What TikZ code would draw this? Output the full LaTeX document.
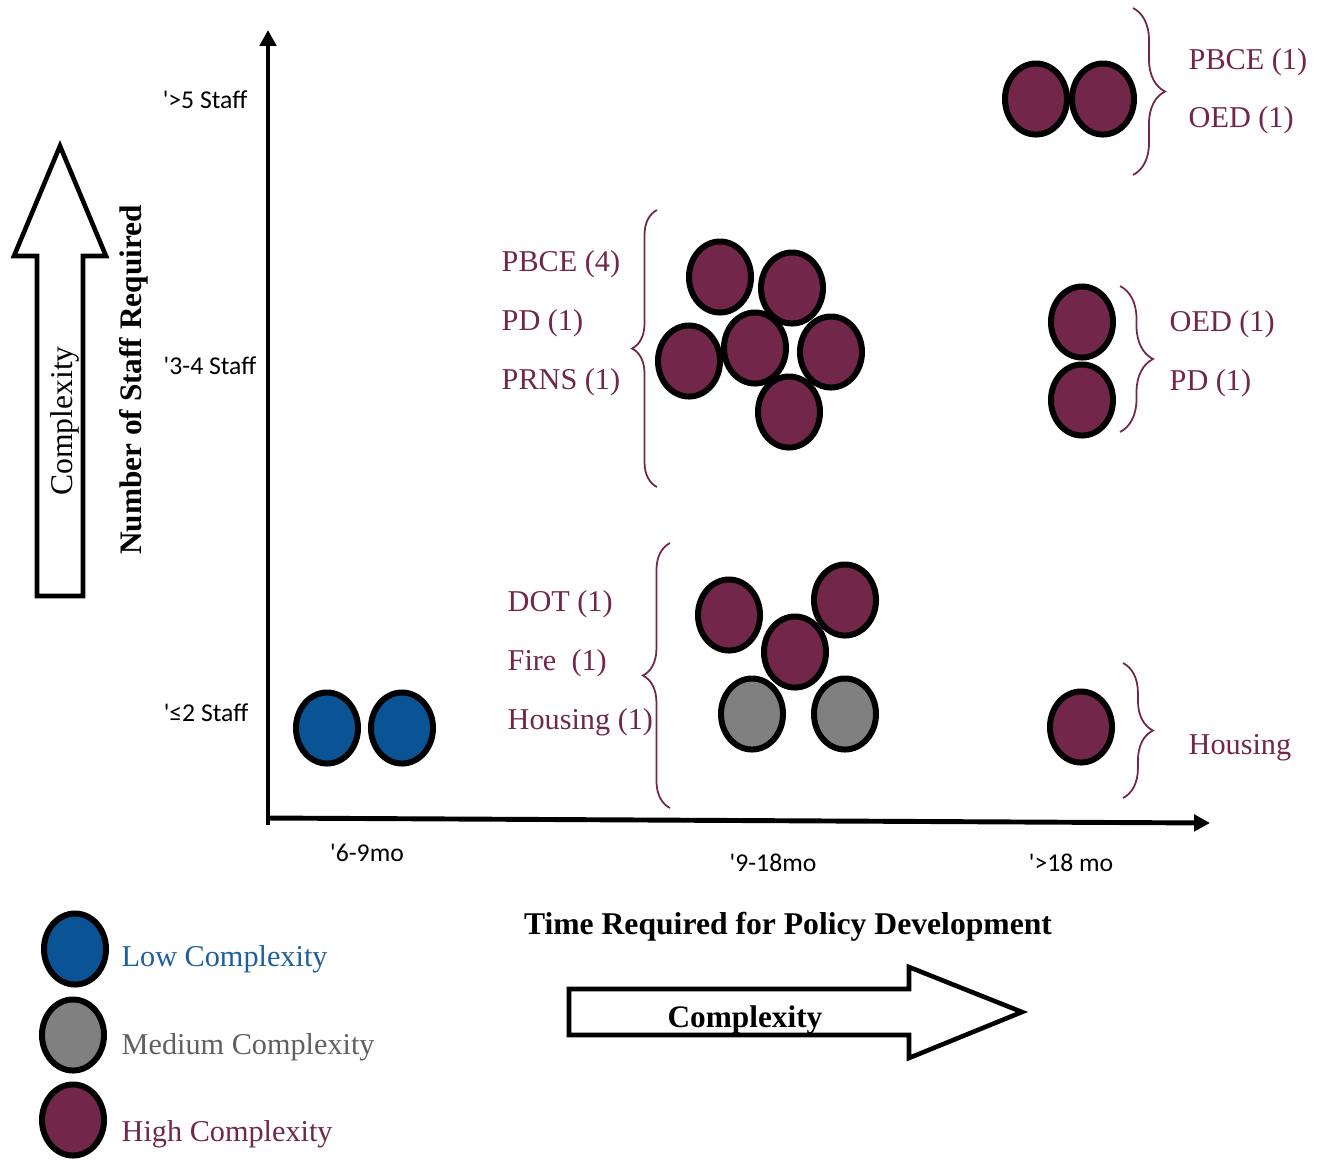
\documentclass[tikz,border=0pt]{standalone}
\usepackage{fontspec}
\setmainfont{Liberation Serif}
\newfontfamily\tickfont{Carlito}
\usetikzlibrary{arrows.meta,shapes.geometric,decorations.pathreplacing}
\definecolor{high}{RGB}{114,38,73}
\definecolor{low}{RGB}{10,83,149}
\definecolor{medium}{RGB}{128,128,128}
\definecolor{lowtext}{RGB}{30,94,158}
\definecolor{medtext}{RGB}{96,96,96}
\def\axw{1.4pt}
\def\tip{-{Triangle[length=4.5pt,width=4.6pt]}}
\tikzset{
  blob/.style={ellipse, draw=black, line width=1.7pt, minimum width=0.62cm, minimum height=0.71cm, inner sep=0pt},
  lowc/.style={blob, fill=low},
  medc/.style={blob, fill=medium},
  highc/.style={blob, fill=high},
  lab/.style={text=high, font=\fontsize{8.6}{10}\selectfont, anchor=west, inner sep=0pt},
  ticklab/.style={font=\tickfont\fontsize{7.3}{9}\selectfont, inner sep=0pt},
  bigarrow/.style={draw=black, line width=1.3pt, fill=white},
  curly/.style={draw=high, line width=0.5pt, decorate, decoration={brace, amplitude=#1}},
}

\begin{document}
\begin{tikzpicture}[x=0.01cm,y=-0.01cm]
\useasboundingbox (0,0) rectangle (1323,1159);

% axes
\coordinate (O) at (268,825);
\coordinate (Ytop) at (268,30);
\coordinate (X0) at (267,818);
\coordinate (Xend) at (1210,823);
\draw[line width=\axw, \tip] (O) -- (Ytop);
\draw[line width=\axw, \tip] (X0) -- (Xend);

\node[ticklab] (s5) at (205,100) {\textquotesingle>5 Staff};
\node[ticklab] (s34) at (210,366) {\textquotesingle3-4 Staff};
\node[ticklab] (s2) at (206,713) {\textquotesingle≤2 Staff};
\node[ticklab] (m69) at (367,853) {\textquotesingle6-9mo};
\node[ticklab] (m918) at (773,863) {\textquotesingle9-18mo};
\node[ticklab] (m18) at (1071,863) {\textquotesingle>18 mo};

\node[rotate=90, font=\bfseries\fontsize{8.9}{10}\selectfont] (ytitle) at (134,380) {Number of Staff Required};
\node[font=\bfseries\fontsize{9}{11}\selectfont] (xtitle) at (788,927) {Time Required for Policy Development};

% complexity arrows
\draw[bigarrow] (37,596) -- (37,256) -- (14,256) -- (60,146) -- (106,256) -- (83,256) -- (83,596) -- cycle;
\node[rotate=90, font=\fontsize{9}{10}\selectfont] (vcomp) at (65,421) {Complexity};
\draw[bigarrow] (569,989) -- (909,989) -- (909,967) -- (1022,1012) -- (909,1058) -- (909,1035) -- (569,1035) -- cycle;
\node[font=\bfseries\fontsize{8.9}{10}\selectfont] (hcomp) at (745,1020) {Complexity};

% policies
\foreach \x/\y [count=\i] in {1036/99, 1103/99, 720/277, 792/288, 689/361, 831/352, 755/348, 789/412,
  1082/322, 1082/400, 729/615, 845/600, 795/652, 1081/727}
  \node[highc] (h\i) at (\x,\y) {};
\node[medc] (m1) at (752,714) {};
\node[medc] (m2) at (845,714) {};
\node[lowc] (l1) at (327,728) {};
\node[lowc] (l2) at (402,728) {};

% braces
\draw[curly=9.1pt] (1133,8) -- (1133,175);
\draw[curly=9.4pt] (1120,286) -- (1120,432);
\draw[curly=8.5pt] (1123,663) -- (1123,798);
\draw[curly=7.1pt] (657,487) -- (657,210);
\draw[curly=7.7pt] (670,808) -- (670,543);

\node[lab] (t1) at (1188,62) {PBCE (1)};
\node[lab] (t2) at (1188,120) {OED (1)};
\node[lab] (t3) at (1169,324) {OED (1)};
\node[lab] (t4) at (1169,383) {PD (1)};
\node[lab] (t5) at (1188,748) {Housing};
\node[lab] (t6) at (501,264) {PBCE (4)};
\node[lab] (t7) at (501,323) {PD (1)};
\node[lab] (t8) at (501,382) {PRNS (1)};
\node[lab] (t9) at (507,604) {DOT (1)};
\node[lab] (t10) at (507,663) {Fire\ \ (1)};
\node[lab] (t11) at (507,722) {Housing (1)};

% legend
\node[lowc] (kl) at (75,949) {};
\node[medc] (km) at (73,1035) {};
\node[highc] (kh) at (73,1120) {};
\node[lab, text=lowtext] (kl-t) at (121,959) {Low Complexity};
\node[lab, text=medtext] (km-t) at (121,1047) {Medium Complexity};
\node[lab] (kh-t) at (121,1134) {High Complexity};
\end{tikzpicture}
\end{document}
